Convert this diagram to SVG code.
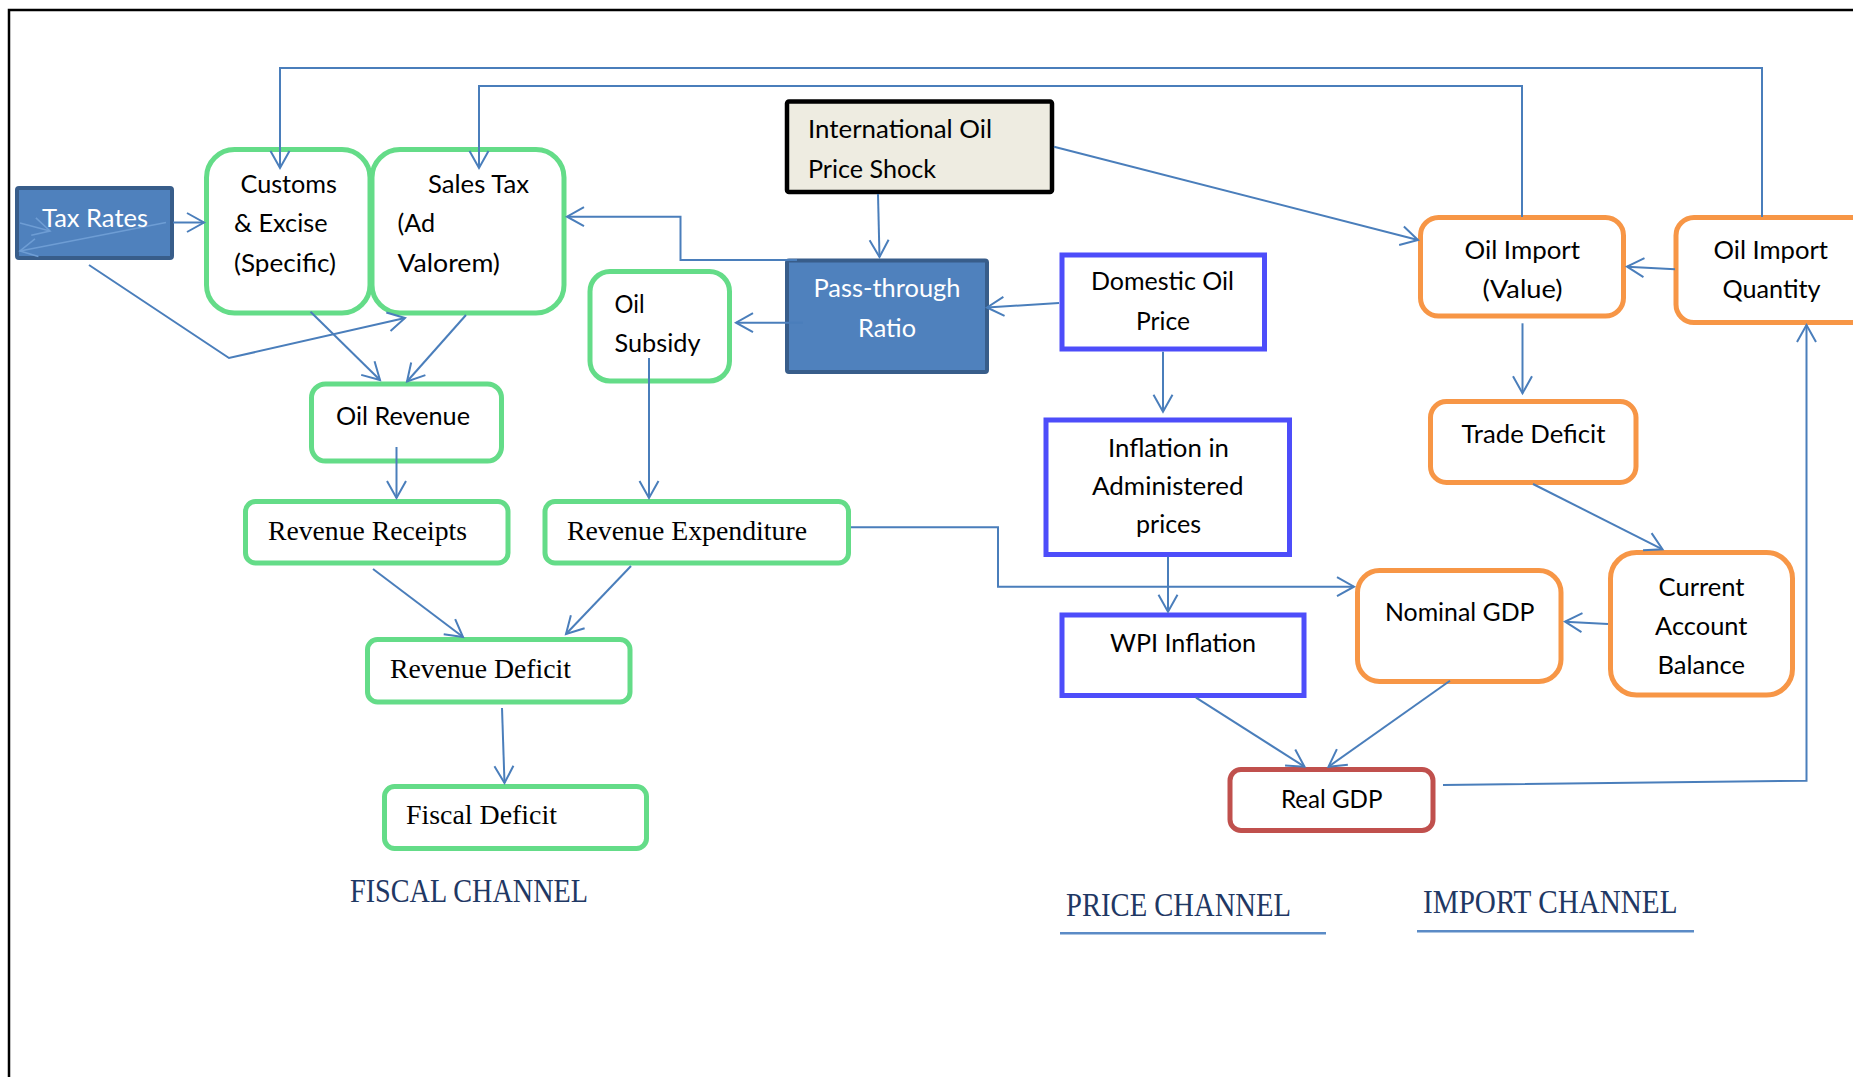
<svg xmlns="http://www.w3.org/2000/svg" width="1853" height="1077" viewBox="0 0 1853 1077">
<style>
.sans{font-family:Lato,"Liberation Sans",sans-serif;font-size:25px;fill:#000}
.serif{font-family:"Liberation Serif",serif;font-size:27px;fill:#000}
.wt{fill:#fff}
.lbl{font-family:"Liberation Serif",serif;font-size:33px;fill:#1F3864}
.g{fill:#fff;stroke:#64DC88;stroke-width:5}
.o{fill:#fff;stroke:#F79646;stroke-width:5}
.p{fill:#fff;stroke:#4D4DFA;stroke-width:5}
.r{fill:#fff;stroke:#C0504D;stroke-width:5}
.b{fill:#4F81BD;stroke:#385D8A;stroke-width:4}
.ca{fill:none;stroke:#4A7EBB;stroke-width:2;marker-end:url(#ah)}
.fa{fill:none;stroke:#6E9DD4;stroke-width:1.6;marker-end:url(#fh)}
</style>
<defs>
<marker id="ah" markerUnits="userSpaceOnUse" viewBox="-20 -12 22 24" refX="0" refY="0" markerWidth="22" markerHeight="24" orient="auto" overflow="visible">
<path d="M-17,-9.5 L0,0 L-17,9.5" fill="none" stroke="#4A7EBB" stroke-width="2"/>
</marker>
<marker id="fh" markerUnits="userSpaceOnUse" viewBox="-20 -12 22 24" refX="0" refY="0" markerWidth="22" markerHeight="24" orient="auto" overflow="visible">
<path d="M-17,-9 L0,0 L-17,9" fill="none" stroke="#6E9DD4" stroke-width="1.6"/>
</marker>
</defs>
<rect width="1853" height="1077" fill="#fff"/>
<path d="M9,1080 L9,10 L1860,10" fill="none" stroke="#000" stroke-width="2.5"/>

<g id="tax-rates">
<rect class="b" x="17" y="188" width="155" height="70" rx="2"/>
<line class="fa" x1="166" y1="222.5" x2="20" y2="251"/>
<line class="fa" x1="20" y1="223" x2="50" y2="231"/>
<text class="sans wt" x="42" y="227" textLength="106" lengthAdjust="spacingAndGlyphs">Tax Rates</text>
</g>

<g id="customs">
<rect class="g" x="206.5" y="149.5" width="163.5" height="163.5" rx="28"/>
<text class="sans" x="240.5" y="193" textLength="96.5" lengthAdjust="spacingAndGlyphs">Customs</text>
<text class="sans" x="234" y="232" textLength="93.5" lengthAdjust="spacingAndGlyphs">&amp; Excise</text>
<text class="sans" x="234" y="272" textLength="102" lengthAdjust="spacingAndGlyphs">(Specific)</text>
</g>

<g id="sales-tax">
<rect class="g" x="372" y="149.5" width="192" height="163.5" rx="28"/>
<text class="sans" x="428" y="193" textLength="101" lengthAdjust="spacingAndGlyphs">Sales Tax</text>
<text class="sans" x="397.5" y="232" textLength="37.5" lengthAdjust="spacingAndGlyphs">(Ad</text>
<text class="sans" x="397.5" y="272" textLength="102.5" lengthAdjust="spacingAndGlyphs">Valorem)</text>
</g>

<g id="oil-revenue">
<rect class="g" x="311.5" y="384" width="190" height="77" rx="14"/>
<text class="sans" x="336" y="425" textLength="134" lengthAdjust="spacingAndGlyphs">Oil Revenue</text>
</g>

<g id="oil-subsidy">
<rect class="g" x="590" y="271.5" width="139.5" height="109.5" rx="20"/>
<text class="sans" x="614.5" y="313" textLength="30" lengthAdjust="spacingAndGlyphs">Oil</text>
<text class="sans" x="614.5" y="352" textLength="86" lengthAdjust="spacingAndGlyphs">Subsidy</text>
</g>

<g id="revenue-receipts">
<rect class="g" x="245.5" y="501.5" width="262.5" height="61.5" rx="10"/>
<text class="serif" x="268" y="540" textLength="199" lengthAdjust="spacingAndGlyphs">Revenue Receipts</text>
</g>

<g id="revenue-expenditure">
<rect class="g" x="545" y="501.5" width="303.5" height="61.5" rx="10"/>
<text class="serif" x="567" y="540" textLength="240" lengthAdjust="spacingAndGlyphs">Revenue Expenditure</text>
</g>

<g id="revenue-deficit">
<rect class="g" x="367.5" y="639.5" width="262.5" height="62.5" rx="10"/>
<text class="serif" x="390" y="678" textLength="181" lengthAdjust="spacingAndGlyphs">Revenue Deficit</text>
</g>

<g id="fiscal-deficit">
<rect class="g" x="384.5" y="786.5" width="262" height="62" rx="10"/>
<text class="serif" x="406" y="824" textLength="151" lengthAdjust="spacingAndGlyphs">Fiscal Deficit</text>
</g>

<g id="intl-oil-price-shock">
<rect x="787" y="101.5" width="265" height="90.5" fill="#EEECE1" stroke="#000" stroke-width="4.5" rx="2"/>
<text class="sans" x="808" y="138" textLength="184" lengthAdjust="spacingAndGlyphs">International Oil</text>
<text class="sans" x="808" y="178" textLength="128" lengthAdjust="spacingAndGlyphs">Price Shock</text>
</g>

<g id="pass-through-ratio">
<rect class="b" x="787" y="260.5" width="200" height="111.5" rx="2"/>
<text class="sans wt" x="813.5" y="297" textLength="147" lengthAdjust="spacingAndGlyphs">Pass-through</text>
<text class="sans wt" x="858" y="337" textLength="58" lengthAdjust="spacingAndGlyphs">Ratio</text>
</g>

<g id="domestic-oil-price">
<rect class="p" x="1062" y="255" width="202.5" height="94"/>
<text class="sans" x="1091" y="290" textLength="143" lengthAdjust="spacingAndGlyphs">Domestic Oil</text>
<text class="sans" x="1136" y="330" textLength="54" lengthAdjust="spacingAndGlyphs">Price</text>
</g>

<g id="inflation-administered">
<rect class="p" x="1046" y="420" width="243.5" height="134.5"/>
<text class="sans" x="1108" y="457" textLength="121" lengthAdjust="spacingAndGlyphs">Inflation in</text>
<text class="sans" x="1092" y="495" textLength="151.5" lengthAdjust="spacingAndGlyphs">Administered</text>
<text class="sans" x="1136" y="533" textLength="65" lengthAdjust="spacingAndGlyphs">prices</text>
</g>

<g id="wpi-inflation">
<rect class="p" x="1062" y="615" width="242" height="80.5"/>
<text class="sans" x="1110" y="652" textLength="146" lengthAdjust="spacingAndGlyphs">WPI Inflation</text>
</g>

<g id="oil-import-value">
<rect class="o" x="1420.5" y="217.5" width="203" height="98.5" rx="18"/>
<text class="sans" x="1464.5" y="259" textLength="115.5" lengthAdjust="spacingAndGlyphs">Oil Import</text>
<text class="sans" x="1482.5" y="298" textLength="80" lengthAdjust="spacingAndGlyphs">(Value)</text>
</g>

<g id="oil-import-quantity">
<rect class="o" x="1676" y="217.5" width="220" height="105" rx="18"/>
<text class="sans" x="1713.5" y="259" textLength="114.5" lengthAdjust="spacingAndGlyphs">Oil Import</text>
<text class="sans" x="1722.5" y="298" textLength="98" lengthAdjust="spacingAndGlyphs">Quantity</text>
</g>

<g id="trade-deficit">
<rect class="o" x="1430.5" y="401.5" width="205.5" height="81" rx="16"/>
<text class="sans" x="1461.5" y="443" textLength="144" lengthAdjust="spacingAndGlyphs">Trade Deficit</text>
</g>

<g id="current-account-balance">
<rect class="o" x="1610.5" y="552.5" width="182" height="142.5" rx="26"/>
<text class="sans" x="1658.5" y="596" textLength="86" lengthAdjust="spacingAndGlyphs">Current</text>
<text class="sans" x="1655" y="635" textLength="92.5" lengthAdjust="spacingAndGlyphs">Account</text>
<text class="sans" x="1657.5" y="674" textLength="87.5" lengthAdjust="spacingAndGlyphs">Balance</text>
</g>

<g id="nominal-gdp">
<rect class="o" x="1357.5" y="570.5" width="203.5" height="111" rx="22"/>
<text class="sans" x="1385" y="621" textLength="149.5" lengthAdjust="spacingAndGlyphs">Nominal GDP</text>
</g>

<g id="real-gdp">
<rect class="r" x="1230" y="769.5" width="203" height="61" rx="11"/>
<text class="sans" x="1281" y="808" textLength="101.5" lengthAdjust="spacingAndGlyphs">Real GDP</text>
</g>

<g id="connectors">
<polyline class="ca" points="1762,217 1762,68 280,68 280,168"/>
<polyline class="ca" points="1522,217 1522,86 479,86 479,168"/>
<line class="ca" x1="173" y1="222.5" x2="204" y2="222.5"/>
<polyline class="ca" points="89,265 229,358 405,318"/>
<line class="ca" x1="310.5" y1="311.7" x2="380" y2="380"/>
<line class="ca" x1="466" y1="315" x2="407" y2="381.5"/>
<line class="ca" x1="396.5" y1="447" x2="396.5" y2="498"/>
<line class="ca" x1="649" y1="358" x2="649" y2="498"/>
<line class="ca" x1="373" y1="569" x2="463" y2="637"/>
<line class="ca" x1="631" y1="566" x2="566" y2="634"/>
<line class="ca" x1="502" y1="708" x2="504.5" y2="783"/>
<line class="ca" x1="878" y1="194" x2="879.5" y2="257"/>
<polyline class="ca" points="797,260 680.5,260 680.5,216.7 567,216.7"/>
<line class="ca" x1="803" y1="322.7" x2="736" y2="322.7"/>
<line class="ca" x1="1059" y1="303" x2="987" y2="307.5"/>
<line class="ca" x1="1054" y1="146.7" x2="1418" y2="240"/>
<line class="ca" x1="1163" y1="351.7" x2="1163" y2="411.7"/>
<line class="ca" x1="1168" y1="556.7" x2="1168" y2="611.7"/>
<polyline class="ca" points="851,527.3 998,527.3 998,586.7 1354,586.7"/>
<line class="ca" x1="1196" y1="697.7" x2="1304.5" y2="766.7"/>
<line class="ca" x1="1450" y1="680.7" x2="1328.5" y2="766.7"/>
<polyline class="ca" points="1443,785 1806.5,780.7 1806.5,325"/>
<line class="ca" x1="1675" y1="269.3" x2="1627" y2="266.7"/>
<line class="ca" x1="1522.5" y1="323.3" x2="1522.5" y2="393.3"/>
<line class="ca" x1="1533" y1="484" x2="1662.5" y2="549.3"/>
<line class="ca" x1="1608" y1="624" x2="1565" y2="621.7"/>
</g>

<g id="labels">
<text class="lbl" x="350" y="902" textLength="238" lengthAdjust="spacingAndGlyphs">FISCAL CHANNEL</text>
<text class="lbl" x="1066" y="915.5" textLength="225" lengthAdjust="spacingAndGlyphs">PRICE CHANNEL</text>
<line x1="1060" y1="933.3" x2="1326" y2="933.3" stroke="#5B8BC6" stroke-width="2.5"/>
<text class="lbl" x="1423" y="913.3" textLength="254.5" lengthAdjust="spacingAndGlyphs">IMPORT CHANNEL</text>
<line x1="1417" y1="931.3" x2="1694" y2="931.3" stroke="#5B8BC6" stroke-width="2.5"/>
</g>
</svg>
